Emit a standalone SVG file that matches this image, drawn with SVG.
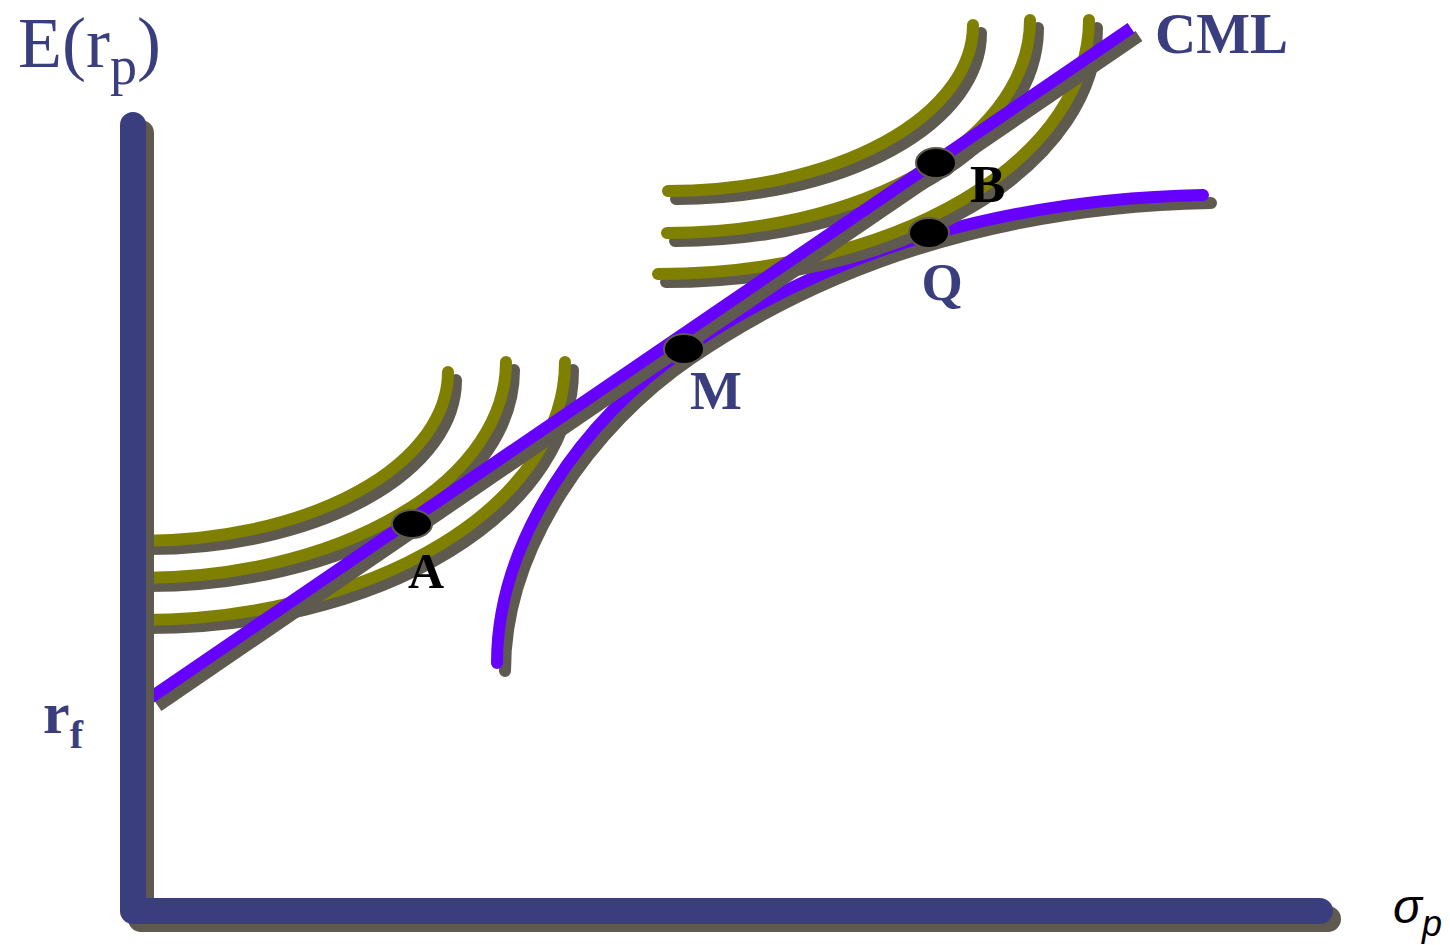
<svg xmlns="http://www.w3.org/2000/svg" xmlns:xlink="http://www.w3.org/1999/xlink" width="1450" height="945" viewBox="0 0 1450 945">
<style>
.sh{fill:none;stroke:#5f5a50;}
.olive{fill:none;stroke:#808000;stroke-width:12;stroke-linecap:round;}
.shc{fill:none;stroke:#5f5a50;stroke-width:12;stroke-linecap:round;}
.blue{fill:none;stroke:#6600ff;stroke-width:12;stroke-linecap:round;}
.cml{fill:none;stroke:#6600ff;stroke-width:12;stroke-linecap:butt;}
.cmlsh{fill:none;stroke:#5f5a50;stroke-width:12;stroke-linecap:butt;}
.axis{fill:none;stroke:#3b3e7e;stroke-width:26;stroke-linecap:round;stroke-linejoin:round;}
.axsh{fill:none;stroke:#5f5a50;stroke-width:26;stroke-linecap:round;stroke-linejoin:round;}
.dot{fill:#000;stroke:#5f5a50;stroke-width:2;}
.lbl{font-family:"Liberation Serif","Times New Roman",serif;fill:#3b3e7e;}
.lblb{font-family:"Liberation Serif","Times New Roman",serif;font-weight:bold;}
</style>
<defs>
<path id="ic1" d="M140,541 A308,169 0 0 0 448,372"/>
<path id="ic2" d="M140,578 A366,216 0 0 0 506,362"/>
<path id="ic3" d="M140,620 A425,258 0 0 0 565,362"/>
<path id="ic4" d="M668,191 A305,166 0 0 0 973,25"/>
<path id="ic5" d="M667,233 A363,213 0 0 0 1030,20"/>
<path id="ic6" d="M658,274 A431,254 0 0 0 1089,20"/>
<path id="front" d="M497,663 C497,540 584,418 684,350 C784,282 950,200 1203,195"/>
<path id="cmlp" d="M150,698 L1131,28"/>
<path id="axp" d="M133,125 V911 H1320"/>
</defs>
<g id="frontier">
<use xlink:href="#front" href="#front" class="shc" transform="translate(8,8)"/>
<use xlink:href="#front" href="#front" class="blue"/>
</g>
<g id="indifference-curves">
<use href="#ic1" class="shc" transform="translate(8,8)"/>
<use href="#ic1" class="olive"/>
<use href="#ic2" class="shc" transform="translate(8,8)"/>
<use href="#ic2" class="olive"/>
<use href="#ic3" class="shc" transform="translate(8,8)"/>
<use href="#ic3" class="olive"/>
<use href="#ic4" class="shc" transform="translate(8,8)"/>
<use href="#ic4" class="olive"/>
<use href="#ic5" class="shc" transform="translate(8,8)"/>
<use href="#ic5" class="olive"/>
<use href="#ic6" class="shc" transform="translate(8,8)"/>
<use href="#ic6" class="olive"/>
</g>
<g id="connectors">
<use href="#cmlp" class="cmlsh" transform="translate(8,8)"/>
<use href="#cmlp" class="cml"/>
</g>
<g id="axes">
<use href="#axp" class="axsh" transform="translate(8,8)"/>
<use href="#axp" class="axis"/>
</g>
<g id="node-A"><ellipse class="dot" cx="412" cy="524" rx="20" ry="14"/><text class="lblb" x="426" y="588" font-size="50" text-anchor="middle" fill="#000">A</text></g>
<g id="node-M"><ellipse class="dot" cx="684" cy="349" rx="20" ry="15"/><text class="lblb" x="716" y="409" font-size="55" text-anchor="middle" fill="#3b3e7e">M</text></g>
<g id="node-B"><ellipse class="dot" cx="936" cy="163" rx="20" ry="15"/><text class="lblb" x="970" y="202" font-size="53" fill="#000">B</text></g>
<g id="node-Q"><ellipse class="dot" cx="929" cy="233" rx="20" ry="15"/><text class="lblb" x="942" y="300" font-size="53" text-anchor="middle" fill="#3b3e7e">Q</text></g>
<g id="labels">
<text class="lbl" x="18" y="67" font-size="72">E(r<tspan font-size="54" dy="17">p</tspan><tspan dy="-17">)</tspan></text>
<text class="lblb" x="1155" y="53" font-size="57" fill="#3b3e7e">CML</text>
<text class="lblb" x="43" y="733" font-size="60" fill="#3b3e7e">r<tspan font-size="40" dy="15">f</tspan></text>
<text x="1393" y="923" font-family="Liberation Sans, Arial, sans-serif" font-style="italic" font-size="48" fill="#000">σ<tspan font-size="36" dy="13">p</tspan></text>
</g>
</svg>
